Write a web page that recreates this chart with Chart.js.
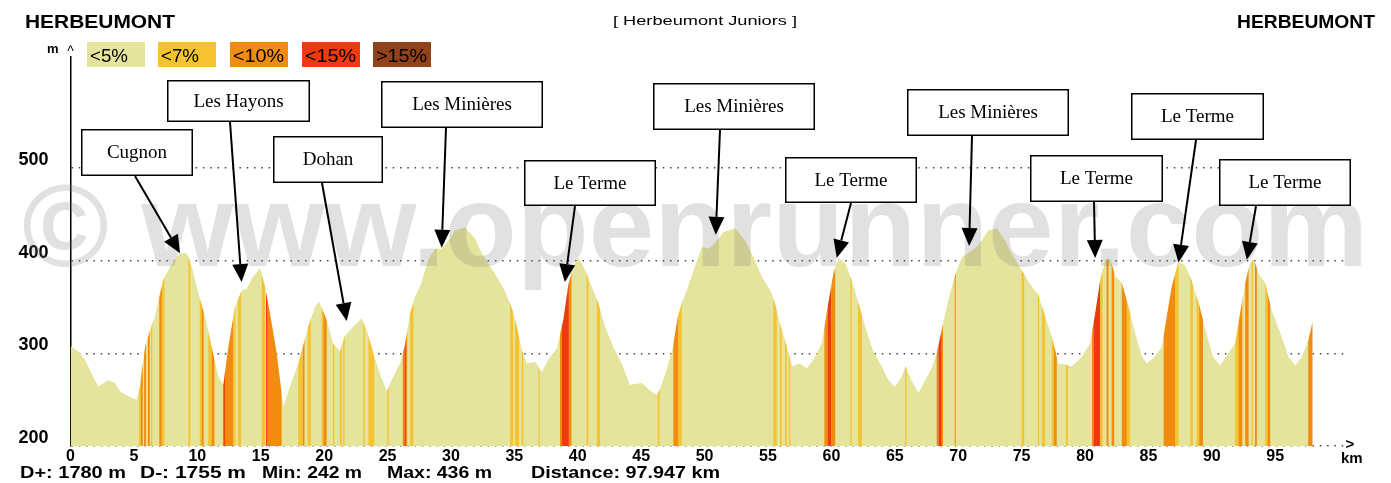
<!DOCTYPE html>
<html><head><meta charset="utf-8">
<script src="https://cdn.jsdelivr.net/npm/chart.js@4/dist/chart.umd.min.js"></script>
<style>html,body{margin:0;padding:0;background:#fff;}#wrap{width:1391px;height:483px;position:relative;}canvas{display:block;}</style>
</head><body><div id="wrap"><canvas id="c" width="1391" height="483"></canvas></div>
<script>
// ---------- data ----------
const distanceKm = [0,0.62,1.14,1.67,2.2,2.59,2.98,3.5,3.9,4.17,4.69,5.2,5.45,5.88,6.27,6.66,7.0,7.3,7.98,8.63,9.16,9.56,10.08,10.6,11.13,11.66,12.05,12.45,12.97,13.5,13.9,14.4,14.95,15.34,15.73,16.26,16.78,17.3,17.97,18.75,19.28,19.6,20.2,20.7,21.25,21.6,22.3,22.96,23.36,23.88,24.4,24.94,25.45,25.98,26.38,26.77,27.17,27.7,28.2,28.75,29.27,29.8,30.3,31.1,31.9,32.43,32.95,33.6,34.27,34.8,35.2,35.58,35.98,36.63,37.16,37.68,38.34,38.86,39.26,39.65,40.05,40.58,41.1,41.62,42.15,42.8,43.47,44.1,45.05,45.7,46.23,46.5,47.0,47.5,47.9,48.2,48.7,49.25,49.8,50.3,50.8,51.5,52.4,53.2,53.85,54.5,55.2,55.55,55.95,56.5,56.9,57.5,58.06,58.58,59.24,59.76,60.16,60.55,61.1,61.6,62.13,62.66,63.3,63.97,64.5,65.0,65.55,65.86,66.3,66.86,67.4,67.9,68.3,68.7,68.97,69.36,69.76,70.3,70.96,71.6,72.4,73.05,73.7,74.35,75.0,75.7,76.33,76.85,77.38,77.9,78.43,78.96,79.74,80.4,80.8,81.2,81.6,81.98,82.4,82.9,83.43,83.95,84.5,84.87,85.4,86.06,86.45,86.84,87.37,87.9,88.4,88.97,89.5,90.1,90.65,91.3,91.84,92.23,92.63,93.0,93.3,93.7,94.2,94.7,95.4,96.05,96.57,97.1,97.6,97.947];
const elevationM = [308,302,293,278,264,268,271,268,259,257,253,250,262,307,325,340,361,379,397,408,408,394,365,340,307,275,266,307,350,368,370,383,392,372,343,300,242,264,289,329,350,356,336,311,302,318,329,338,325,300,278,259,275,289,309,343,361,377,401,413,413,422,433,436,424,408,397,383,367,349,329,304,289,291,280,293,305,336,374,394,403,390,372,354,329,307,289,266,268,260,255,262,282,307,340,354,372,394,415,413,419,431,435,422,404,383,368,354,332,307,286,289,284,293,311,354,386,403,397,379,354,329,302,286,271,264,275,286,271,257,271,284,300,325,343,365,385,404,410,417,433,435,422,404,390,374,363,340,318,289,288,286,296,311,343,379,401,402,383,376,350,322,296,289,295,307,340,372,399,395,379,354,325,296,287,300,311,343,376,397,402,386,376,347,322,296,287,296,314,334];
// slope bands (grade index: 1 = <7%, 2 = <10%, 3 = <15%)
const bandFromKm = [5.40,5.55,5.80,6.10,6.35,7.00,7.20,9.30,10.20,10.35,10.87,11.13,12.05,12.18,12.84,13.20,15.08,15.42,15.55,17.97,18.30,18.70,19.80,19.94,20.70,21.25,21.50,23.10,23.50,25.00,26.20,26.33,26.45,26.78,34.67,35.06,35.58,36.90,38.60,38.75,39.30,40.70,41.50,46.30,47.54,47.94,55.43,55.95,56.35,56.65,59.45,59.70,59.98,61.50,62.10,65.82,68.30,68.44,68.70,69.72,75.00,76.28,76.60,77.38,77.55,78.50,80.55,80.67,81.20,81.70,82.10,82.90,83.30,86.20,87.10,88.30,88.80,89.00,91.84,92.10,92.63,93.15,93.40,94.20,94.40,97.60];
const bandToKm   = [5.55,5.70,5.95,6.25,6.45,7.20,7.40,9.45,10.35,10.50,11.13,11.35,12.18,12.84,13.00,13.45,15.34,15.55,16.65,18.25,18.45,18.95,19.94,20.20,20.80,21.38,21.62,23.20,23.95,25.10,26.33,26.45,26.55,27.04,34.90,35.37,35.70,36.97,38.75,39.30,39.50,40.84,41.76,46.44,47.94,48.20,55.69,56.08,56.48,56.75,59.70,59.98,60.30,61.60,62.40,65.92,68.44,68.70,68.80,69.80,75.20,76.38,76.85,77.55,77.77,78.65,80.67,81.20,81.38,81.85,82.30,83.30,83.55,87.10,87.37,88.50,89.00,89.30,92.10,92.40,92.90,93.25,93.55,94.40,94.60,97.95];
const bandGrade  = [1,2,2,2,1,2,1,1,1,2,1,2,3,2,1,1,1,3,2,1,2,1,1,2,1,1,1,1,1,1,2,3,2,1,1,1,1,1,2,3,2,1,1,1,2,1,1,1,1,1,2,3,2,1,1,1,2,3,2,2,1,1,1,1,2,1,2,3,1,2,2,2,1,2,1,1,1,2,1,2,2,1,2,1,2,2];
const xTickValues = [0,5,10,15,20,25,30,35,40,45,50,55,60,65,70,75,80,85,90,95];
const yTickValues = [200,300,400,500];
const gradeLabels = ['<5%','<7%','<10%','<15%','>15%'];
const placeNames = ['Cugnon','Les Hayons','Dohan','Les Minières','Le Terme','Les Minières','Le Terme','Les Minières','Le Terme','Le Terme','Le Terme'];
const placeKm    = [8.64,13.49,21.78,29.27,38.98,50.88,60.42,70.86,80.8,87.37,92.76];
const placeElevM = [408,377,335,414,377,428,403,416,403,398,401];
const statLabels = ['D+:','D-:','Min:','Max:','Distance:'];
const statValues = ['1780 m','1755 m','242 m','436 m','97.947 km'];
const startName = 'HERBEUMONT';
const endName = 'HERBEUMONT';
const routeTitle = '[ Herbeumont Juniors ]';
const watermarkText = '\u00A9 www.openrunner.com';

// ---------- styles / layout ----------
const gradeColors = ['#e4e49c','#f5c232','#f28c10','#ee3a10','#92421a'];
const SANS = '"Liberation Sans", Arial, sans-serif';
const SERIF = '"Liberation Serif", "Times New Roman", serif';
// annotation boxes [left, top, width, height] and arrow start [x, y] in pixels
const boxLayout = [[81,129,112,47],[167,80,143,42],[273,136,110,47],[381,81,162,47],[524,160,132,46],[653,83,162,47],[785,157,132,46],[907,89,162,47],[1030,155,133,47],[1131,93,133,47],[1219,159,132,47]];
const arrowStart = [[135,176],[230,122],[322,183],[446,128],[575,206],[720,130],[851,203],[972,136],[1094,202],[1196,140],[1256,206]];
const statX = [20,140,262,387,531];
const statW = [106,106,100,105,189];
const legendX = [87,158,230,302,373];
const legendTextW = [38,38,51,51,51];

function fitText(ctx, text, x, y, width, align) {
  const w = ctx.measureText(text).width;
  const s = width / w;
  ctx.save();
  let x0 = x;
  if (align === 'center') x0 = x - width / 2;
  else if (align === 'right') x0 = x - width;
  ctx.translate(x0, y);
  ctx.scale(s, 1);
  ctx.textAlign = 'left';
  ctx.fillText(text, 0, 0);
  ctx.restore();
}

const extras = {
  id: 'extras',
  afterDatasetsDraw(chart) {
    const {ctx, chartArea: a, scales: {x, y}} = chart;
    const pts = chart.getDatasetMeta(0).data;
    // slope bands clipped to profile
    ctx.save();
    ctx.beginPath();
    ctx.moveTo(pts[0].x, a.bottom);
    pts.forEach(p => ctx.lineTo(p.x, p.y));
    ctx.lineTo(pts[pts.length - 1].x, a.bottom);
    ctx.closePath();
    ctx.clip();
    for (let i = 0; i < bandFromKm.length; i++) {
      const x0 = x.getPixelForValue(bandFromKm[i]);
      const x1 = x.getPixelForValue(bandToKm[i]);
      ctx.fillStyle = gradeColors[bandGrade[i]];
      ctx.fillRect(x0, a.top, Math.max(1, x1 - x0), a.bottom - a.top);
    }
    ctx.restore();
    // watermark
    ctx.save();
    ctx.font = 'bold 116px ' + SANS;
    ctx.fillStyle = 'rgba(120,120,120,0.22)';
    ctx.textBaseline = 'alphabetic';
    fitText(ctx, watermarkText, 22, 266, 1346, 'left');
    ctx.restore();
    // annotations
    ctx.save();
    for (let i = 0; i < placeNames.length; i++) {
      const tx = x.getPixelForValue(placeKm[i]);
      const ty = y.getPixelForValue(placeElevM[i]);
      const [sx, sy] = arrowStart[i];
      const ang = Math.atan2(ty - sy, tx - sx);
      const L = 18, H = 8;
      const bx = tx - L * Math.cos(ang), by = ty - L * Math.sin(ang);
      ctx.strokeStyle = '#000'; ctx.lineWidth = 2;
      ctx.beginPath(); ctx.moveTo(sx, sy); ctx.lineTo(bx, by); ctx.stroke();
      ctx.fillStyle = '#000';
      ctx.beginPath();
      ctx.moveTo(tx, ty);
      ctx.lineTo(bx + H * Math.sin(ang), by - H * Math.cos(ang));
      ctx.lineTo(bx - H * Math.sin(ang), by + H * Math.cos(ang));
      ctx.closePath(); ctx.fill();
      const [bl, bt, bw, bh] = boxLayout[i];
      ctx.fillStyle = '#fff';
      ctx.fillRect(bl, bt, bw, bh);
      ctx.lineWidth = 1.5; ctx.strokeStyle = '#000';
      ctx.strokeRect(bl + 0.75, bt + 0.75, bw - 1.5, bh - 1.5);
      ctx.fillStyle = '#000';
      ctx.font = '19px ' + SERIF;
      ctx.textAlign = 'center'; ctx.textBaseline = 'middle';
      ctx.fillText(placeNames[i], bl + bw / 2, bt + bh / 2 + 1);
    }
    ctx.restore();
  },
  afterDraw(chart) {
    const {ctx, chartArea: a} = chart;
    ctx.save();
    ctx.fillStyle = '#000';
    ctx.textBaseline = 'alphabetic';
    ctx.font = 'bold 18px ' + SANS;
    fitText(ctx, startName, 25, 28, 150, 'left');
    fitText(ctx, endName, 1375, 28, 138, 'right');
    ctx.font = '13px ' + SANS;
    fitText(ctx, routeTitle, 705, 25, 184, 'center');
    // legend
    for (let i = 0; i < gradeLabels.length; i++) {
      ctx.fillStyle = gradeColors[i];
      ctx.fillRect(legendX[i], 42, 58, 25);
      ctx.fillStyle = '#000';
      ctx.font = '18px ' + SANS;
      fitText(ctx, gradeLabels[i], legendX[i] + 3, 62, legendTextW[i], 'left');
    }
    // axis ends
    ctx.font = 'bold 13px ' + SANS;
    ctx.fillText('m', 47, 53);
    ctx.font = '14px ' + SANS;
    ctx.textAlign = 'center';
    ctx.fillText('^', a.left, 56);
    ctx.font = 'bold 15px ' + SANS;
    ctx.fillText('>', a.right + 5, 449);
    ctx.textAlign = 'left';
    ctx.fillText('km', a.right - 4, 463);
    // stats line
    ctx.font = 'bold 17px ' + SANS;
    for (let i = 0; i < statLabels.length; i++) {
      fitText(ctx, statLabels[i] + ' ' + statValues[i], statX[i], 478, statW[i], 'left');
    }
    ctx.restore();
  }
};

new Chart(document.getElementById('c'), {
  type: 'line',
  data: {
    datasets: [{
      data: distanceKm.map((k, i) => ({x: k, y: elevationM[i]})),
      fill: 'start',
      backgroundColor: gradeColors[0],
      borderWidth: 0,
      pointRadius: 0,
      tension: 0
    }]
  },
  options: {
    responsive: false,
    animation: false,
    devicePixelRatio: 1,
    layout: {padding: {left: 0, right: 46, top: 57, bottom: 0}},
    plugins: {legend: {display: false}, tooltip: {enabled: false}},
    scales: {
      x: {
        type: 'linear', min: 0, max: 100.5,
        afterBuildTicks: s => { s.ticks = xTickValues.map(v => ({value: v})); },
        afterFit: s => { s.height = 37; },
        grid: {display: false, drawTicks: false},
        border: {display: false},
        ticks: {color: '#000', font: {family: SANS, size: 16, weight: 'bold'}, padding: 1, maxRotation: 0, autoSkip: false}
      },
      y: {
        type: 'linear', min: 200, max: 620,
        afterBuildTicks: s => { s.ticks = yTickValues.map(v => ({value: v})); },
        afterFit: s => { s.width = 70.5; },
        grid: {drawTicks: false, color: '#444', lineWidth: 1.5},
        border: {display: true, color: '#000', width: 1.5, dash: [1.5, 5.8]},
        ticks: {color: '#000', font: {family: SANS, size: 18, weight: 'bold'}, padding: 22, labelOffset: -8}
      }
    }
  },
  plugins: [extras]
});
</script></body></html>
